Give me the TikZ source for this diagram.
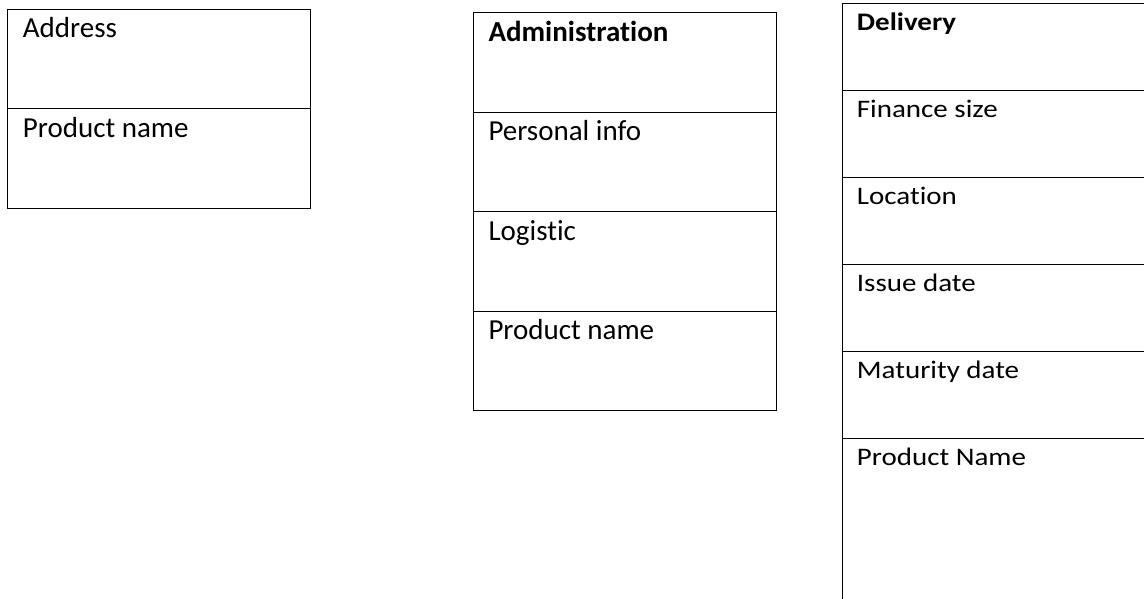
\documentclass[tikz,border=0pt]{standalone}
\usepackage{graphicx}
\usepackage{fontspec}
\setmainfont{Carlito}[Ligatures={NoCommon,NoContextual}]
\usetikzlibrary{calc}
\newcommand\squishtxt[1]{\scalebox{1}[0.87]{#1}}
\begin{document}
\begin{tikzpicture}[x=1pt,y=1pt,
  cell/.style={draw=black, line width=1pt, rectangle, anchor=north west, inner sep=0pt, outer sep=0pt},
  txt/.style={anchor=base west, inner sep=0pt, font=\fontsize{29}{34}\selectfont}]
\useasboundingbox (0,0) rectangle (1144,-599);
\clip (0,0) rectangle (1144,-599);
% Box 1
\node[cell, minimum width=303pt, minimum height=99.5pt] (a1) at (7.3,-9.3) {};
\node[cell, minimum width=303pt, minimum height=99.5pt] (a2) at (7.3,-108.8) {};
\node[txt] (ta1) at ($(a1.north west)+(15.4,-28.5)$) {Address};
\node[txt] (ta2) at ($(a2.north west)+(15.4,-28.5)$) {Product name};
% Box 2
\node[cell, minimum width=302.7pt, minimum height=99.5pt] (b1) at (473.3,-12.7) {};
\node[cell, minimum width=302.7pt, minimum height=99.5pt] (b2) at (473.3,-112.2) {};
\node[cell, minimum width=302.7pt, minimum height=99.5pt] (b3) at (473.3,-211.7) {};
\node[cell, minimum width=302.7pt, minimum height=99.5pt] (b4) at (473.3,-311.2) {};
\node[txt, font=\fontsize{29}{34}\selectfont\bfseries] (tb1) at ($(b1.north west)+(15,-28.5)$) {Administration};
\node[txt] (tb2) at ($(b2.north west)+(15,-28.5)$) {Personal info};
\node[txt] (tb3) at ($(b3.north west)+(15,-28.5)$) {Logistic};
\node[txt] (tb4) at ($(b4.north west)+(15,-28.5)$) {Product name};
% Box 3
\node[cell, minimum width=330pt, minimum height=86.9pt] (c1) at (842.7,-4) {};
\node[cell, minimum width=330pt, minimum height=86.9pt] (c2) at (842.7,-90.9) {};
\node[cell, minimum width=330pt, minimum height=86.9pt] (c3) at (842.7,-177.8) {};
\node[cell, minimum width=330pt, minimum height=86.9pt] (c4) at (842.7,-264.7) {};
\node[cell, minimum width=330pt, minimum height=86.9pt] (c5) at (842.7,-351.6) {};
\node[cell, minimum width=330pt, minimum height=200pt] (c6) at (842.7,-438.5) {};
\node[txt, font=\fontsize{29}{34}\selectfont\bfseries] (tc1) at ($(c1.north west)+(14,-26.7)$) {\squishtxt{Delivery}};
\node[txt] (tc2) at ($(c2.north west)+(14,-26.5)$) {\squishtxt{Finance size}};
\node[txt] (tc3) at ($(c3.north west)+(14,-26.5)$) {\squishtxt{Location}};
\node[txt] (tc4) at ($(c4.north west)+(14,-26.5)$) {\squishtxt{Issue date}};
\node[txt] (tc5) at ($(c5.north west)+(14,-26.5)$) {\squishtxt{Maturity date}};
\node[txt] (tc6) at ($(c6.north west)+(14,-26.5)$) {\squishtxt{Product Name}};
\end{tikzpicture}
\end{document}
